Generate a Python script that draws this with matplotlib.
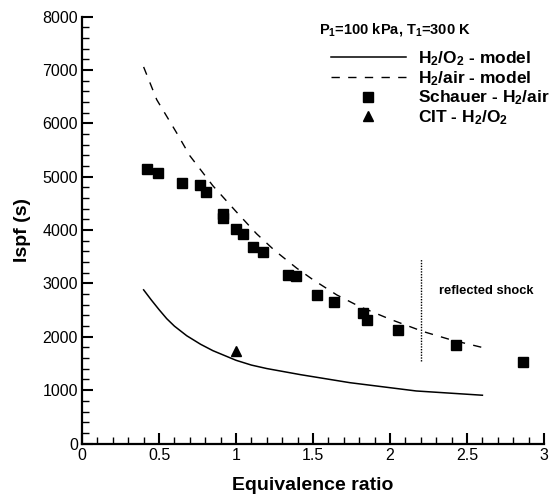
import matplotlib
matplotlib.use('Agg')
import matplotlib.pyplot as plt
from matplotlib.ticker import MultipleLocator

plt.rcParams['font.family'] = ['Liberation Sans', 'DejaVu Sans']
plt.rcParams['mathtext.fontset'] = 'custom'
plt.rcParams['mathtext.rm'] = 'Liberation Sans:bold'
plt.rcParams['mathtext.it'] = 'Liberation Sans:bold'
plt.rcParams['mathtext.bf'] = 'Liberation Sans:bold'

# --- DATA ---
# H2/O2 model curve
phi_o2 = [0.40, 0.45, 0.50, 0.55, 0.60, 0.68, 0.77, 0.85, 1.00, 1.10, 1.20, 1.42, 1.74, 2.17, 2.60]
isp_o2 = [2880, 2690, 2510, 2340, 2200, 2020, 1860, 1740, 1560, 1470, 1405, 1290, 1140, 985, 905]

# H2/air model curve
phi_air = [0.40, 0.485, 0.615, 0.70, 0.85, 1.00, 1.134, 1.25, 1.394, 1.50, 1.654, 1.80, 2.00, 2.216, 2.40, 2.60]
isp_air = [7058, 6445, 5820, 5394, 4830, 4349, 3930, 3620, 3287, 3070, 2786, 2570, 2330, 2098, 1940, 1800]

# Schauer - H2/air experiments
phi_schauer = [0.42, 0.495, 0.651, 0.768, 0.807, 0.914, 0.918, 1.00, 1.043, 1.113, 1.177,
               1.336, 1.39, 1.528, 1.638, 1.827, 1.849, 2.054, 2.43, 2.866]
isp_schauer = [5144, 5069, 4882, 4844, 4713, 4300, 4236, 4019, 3930, 3681, 3587,
               3156, 3137, 2780, 2649, 2454, 2317, 2124, 1842, 1535]

# CIT - H2/O2 experiment
phi_cit = [1.0]
isp_cit = [1735]

# reflected shock limit
shock_phi = 2.2
shock_range = [1550, 3450]

# --- PLOT ---
fig = plt.figure(figsize=(5.52, 4.98), dpi=100)
ax = fig.add_axes([0.1486, 0.1094, 0.8369, 0.8571])

ax.plot(phi_o2, isp_o2, color='black', lw=1.1, label='H$_2$/O$_2$ - model')
ax.plot(phi_air, isp_air, color='black', lw=1.0, dashes=(6, 6), label='H$_2$/air - model')
ax.plot(phi_schauer, isp_schauer, 's', color='black', ms=7, label='Schauer - H$_2$/air')
ax.plot(phi_cit, isp_cit, '^', color='black', ms=7, label='CIT - H$_2$/O$_2$')
ax.vlines(shock_phi, shock_range[0], shock_range[1], colors='black', lw=1.0, linestyles=(0, (1, 1)))
ax.text(2.32, 2850, 'reflected shock', fontsize=9.3, fontweight='bold', va='center', ha='left')

ax.set_xlim(0, 3)
ax.set_ylim(0, 8000)
ax.xaxis.set_major_locator(MultipleLocator(0.5))
ax.xaxis.set_minor_locator(MultipleLocator(0.1))
ax.yaxis.set_major_locator(MultipleLocator(1000))
ax.yaxis.set_minor_locator(MultipleLocator(200))
ax.set_xticks([0, 0.5, 1, 1.5, 2, 2.5, 3])
ax.set_xticklabels(['0', '0.5', '1', '1.5', '2', '2.5', '3'])
ax.tick_params(which='major', direction='in', length=8, width=1.5, labelsize=11.5, pad=3)
ax.tick_params(which='minor', direction='in', length=5, width=1.0)

for side in ['top', 'right']:
    ax.spines[side].set_visible(False)
for side in ['left', 'bottom']:
    ax.spines[side].set_linewidth(1.6)

ax.set_xlabel('Equivalence ratio', fontsize=14, fontweight='bold', labelpad=10)
ax.set_ylabel('Ispf (s)', fontsize=14, fontweight='bold', labelpad=8)

ax.text(0.677, 0.969, 'P$_1$=100 kPa, T$_1$=300 K', transform=ax.transAxes,
        fontsize=10.5, fontweight='bold', ha='center', va='center')
leg = ax.legend(loc='upper left', bbox_to_anchor=(0.538, 0.924), frameon=False,
                fontsize=12.5, handlelength=4.35, handletextpad=0.67, labelspacing=0.06,
                borderpad=0, borderaxespad=0)
for t in leg.get_texts():
    t.set_fontweight('bold')

fig.savefig('out.png', dpi=100)
